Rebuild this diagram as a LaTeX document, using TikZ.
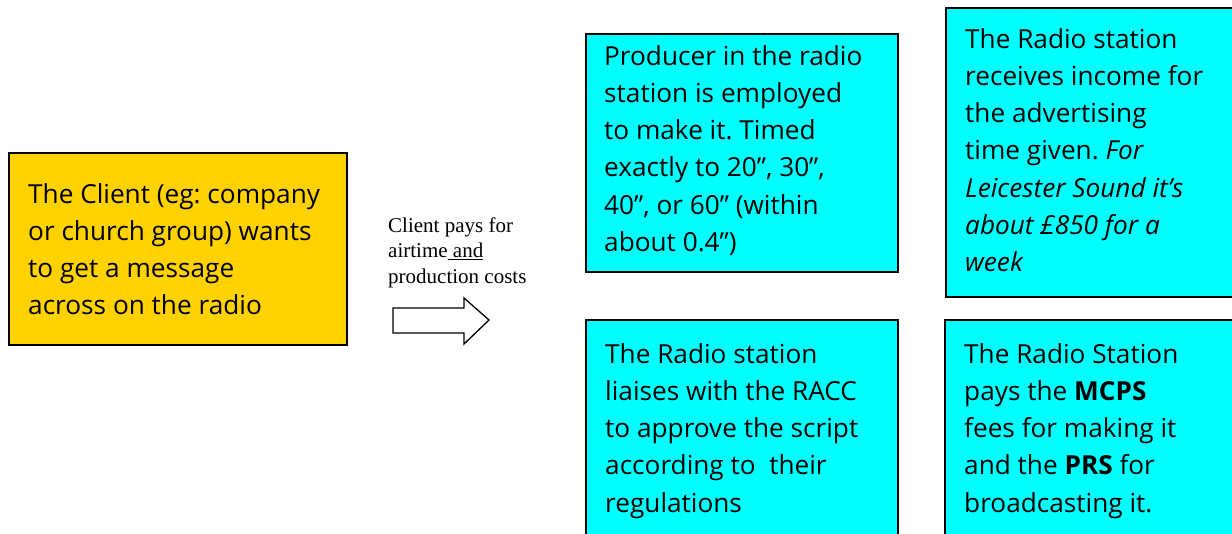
\documentclass[tikz,border=0pt]{standalone}
\usepackage{fontspec}
\setmainfont{Open Sans}
\newfontfamily\notefont{Liberation Serif}
\definecolor{clientfill}{RGB}{255,210,0}
\definecolor{stationfill}{RGB}{0,255,255}
\newcommand{\boxlines}[1]{\parbox[t]{330pt}{\raggedright\frenchspacing #1}}
\tikzset{
  panel/.style={draw=black, line width=1.6pt, anchor=north west, inner sep=0pt},
  client/.style={panel, fill=clientfill},
  station/.style={panel, fill=stationfill},
  bodytext/.style={anchor=base west, inner sep=0pt, font=\fontsize{26.2}{37.3}\selectfont},
  notetext/.style={anchor=base west, inner sep=0pt, font=\notefont\fontsize{21}{25.5}\selectfont},
}
\begin{document}
\begin{tikzpicture}[x=1pt, y=-1pt]
  \useasboundingbox (0,0) rectangle (1232,533);
  \clip (0,0) rectangle (1232,533);

  % client box
  \node[client, minimum width=338pt, minimum height=192pt] (clientbox) at (8,152) {};
  \node[bodytext] (clienttext) at (28,203) {\boxlines{The Client (eg: company\\or church group) wants\\to get a message\\across on the radio}};

  % payment note and block arrow
  \node[notetext] (paynote) at (388,232) {\boxlines{Client pays for\\airtime\underline{ and}\\production costs}};
  \draw[line width=1.3pt, line join=miter] (393,308) -- (464,308) -- (464,298) -- (489,320)
      -- (464,344) -- (464,333) -- (393,333) -- cycle;

  % radio station boxes
  \node[station, minimum width=312pt, minimum height=238pt] (producer) at (585,33) {};
  \node[bodytext] (producertext) at (604,65) {\boxlines{Producer in the radio\\station is employed\\to make it. Timed\\exactly to 20”, 30”,\\40”, or 60” (within\\about 0.4”)}};

  \node[station, minimum width=300pt, minimum height=289pt] (income) at (945,7) {};
  \node[bodytext] (incometext) at (965,48) {\boxlines{The Radio station\\receives income for\\the advertising\\time given. \textit{For}\\\textit{Leicester Sound it’s}\\\textit{about £850 for a}\\\textit{week}}};

  \node[station, minimum width=312pt, minimum height=240pt] (racc) at (585,319) {};
  \node[bodytext] (racctext) at (605,363) {\boxlines{The Radio station\\liaises with the RACC\\to approve the script\\according to~ their\\regulations}};

  \node[station, minimum width=300pt, minimum height=240pt] (fees) at (944,319) {};
  \node[bodytext] (feestext) at (964,363) {\boxlines{The Radio Station\\pays the \textbf{MCPS}\\fees for making it\\and the \textbf{PRS} for\\broadcasting it.}};
\end{tikzpicture}
\end{document}
